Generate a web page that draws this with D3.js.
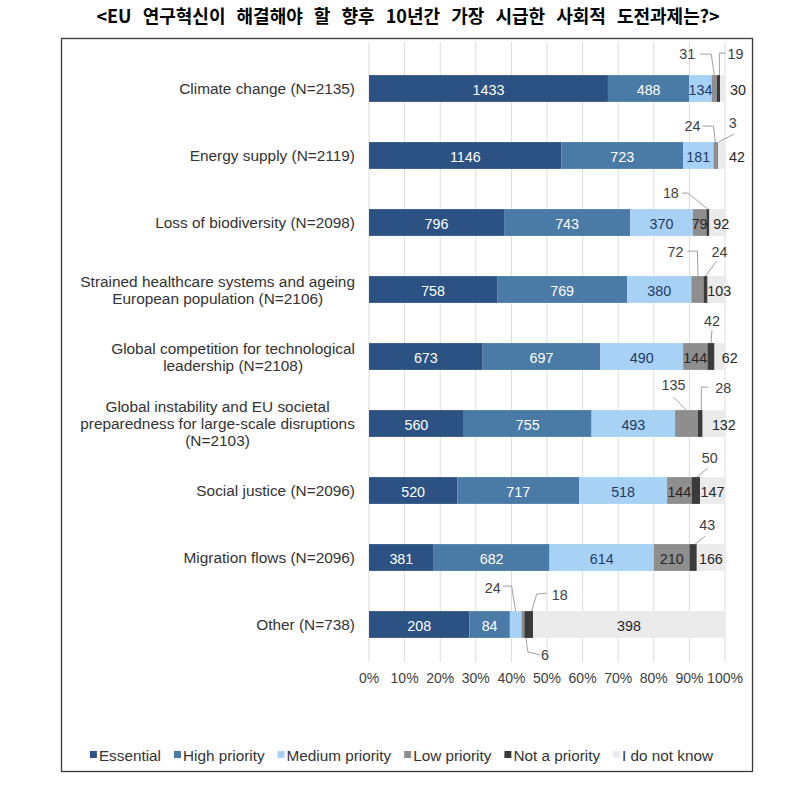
<!DOCTYPE html>
<html><head><meta charset="utf-8">
<script src="https://cdn.jsdelivr.net/npm/d3@7"></script>
<style>body{margin:0;background:#fff}</style>
</head><body>
<svg id="chart" width="812" height="792"></svg>
<script>
// ---------- data ----------
const title = "<EU 연구혁신이 해결해야 할 향후 10년간 가장 시급한 사회적 도전과제는?>";
const categories = [
  "Climate change (N=2135)",
  "Energy supply (N=2119)",
  "Loss of biodiversity (N=2098)",
  "Strained healthcare systems and ageing\nEuropean population (N=2106)",
  "Global competition for technological\nleadership (N=2108)",
  "Global instability and EU societal\npreparedness for large-scale disruptions\n(N=2103)",
  "Social justice (N=2096)",
  "Migration flows (N=2096)",
  "Other (N=738)"
];
const seriesNames = ["Essential","High priority","Medium priority","Low priority","Not a priority","I do not know"];
const essential      = [1433,1146,796,758,673,560,520,381,208];
const highPriority   = [488,723,743,769,697,755,717,682,84];
const mediumPriority = [134,181,370,380,490,493,518,614,24];
const lowPriority    = [31,24,79,72,144,135,144,210,6];
const notAPriority   = [19,3,18,24,42,28,50,43,18];
const doNotKnow      = [30,42,92,103,62,132,147,166,398];
const tickValues = [0,0.1,0.2,0.3,0.4,0.5,0.6,0.7,0.8,0.9,1];
const tickLabels = ["0%","10%","20%","30%","40%","50%","60%","70%","80%","90%","100%"];

// ---------- style / layout ----------
const colors = ["#2b5283","#4a7aa6","#a8d2f5","#8e8e8e","#3b3b3b","#ebebeb"];
const labelColors = ["#ffffff","#ffffff","#1f3a66","#262626","#262626","#262626"];
const FONT = "'Liberation Sans', Arial, sans-serif";
// callout label placement relative to segment anchor (top centre, or bottom centre)
const callouts = [
  {row:0, s:3, lx:-27, ly:-21, path:[[-14,-21],[-3,-21],[0,0]]},
  {row:0, s:4, lx:17, ly:-21, path:[[7,-22],[1,-22],[1,0]]},
  {row:1, s:3, lx:-23, ly:-16, path:[[-13,-16],[-2,-16],[0,0]]},
  {row:1, s:4, lx:15, ly:-19, path:[[16,-8],[1,0]]},
  {row:2, s:4, lx:-37, ly:-16, path:[[-26,-16],[-20,-16],[0,0]]},
  {row:3, s:3, lx:-22, ly:-24, path:[[-10,-25],[0,-25],[0.5,0]]},
  {row:3, s:4, lx:14, ly:-24, path:[[11,-15],[0,0]]},
  {row:4, s:4, lx:1, ly:-22, path:[[1,-13],[0,0]]},
  {row:5, s:3, lx:-13, ly:-25, path:[[-13,-13],[0,0]]},
  {row:5, s:4, lx:23, ly:-22, path:[[8,-23],[1,-23],[1,0]]},
  {row:6, s:4, lx:14, ly:-19, path:[[12,-9],[1,0]]},
  {row:7, s:4, lx:14, ly:-19, path:[[12,-8],[2,0]]},
  {row:8, s:2, lx:-23, ly:-23, path:[[-13,-25],[-4,-25],[0,0]]},
  {row:8, s:3, bottom:true, lx:22, ly:17, path:[[17,17],[5,14],[3,0]]},
  {row:8, s:4, lx:31, ly:-16, path:[[18,-18],[8,-17],[3,0]]}
];
const dkShift = [15.5,15.5,4,3,10,10,0,0,0];

const svg = d3.select("#chart");
svg.append("rect").attr("width",812).attr("height",792).attr("fill","#fff");

// title
svg.append("text").attr("x",408).attr("y",23).attr("text-anchor","middle")
  .attr("font-family","'Noto Sans CJK KR', sans-serif").attr("font-weight","bold")
  .attr("font-size",18).attr("word-spacing",7).attr("fill","#000").text(title);

// frame
svg.append("rect").attr("x",61.5).attr("y",38.5).attr("width",691).attr("height",733)
  .attr("fill","none").attr("stroke","#3a3a3a").attr("stroke-width",1.3);

const x = d3.scaleLinear().domain([0,1]).range([369,725]);
const y = d3.scaleBand().domain(d3.range(categories.length)).range([55,658])
  .paddingInner(0.6).paddingOuter(0.3);

// grid
svg.append("g").selectAll("line").data(tickValues).join("line")
  .attr("x1",d=>x(d)).attr("x2",d=>x(d)).attr("y1",42).attr("y2",662)
  .attr("stroke","#dcdcdc").attr("stroke-width",1);

// stack
const table = categories.map((c,i)=>{
  const vals = [essential[i],highPriority[i],mediumPriority[i],lowPriority[i],notAPriority[i],doNotKnow[i]];
  const total = d3.sum(vals);
  const o = {row:i,total};
  seriesNames.forEach((s,k)=>o[s]=vals[k]/total);
  o.raw = vals;
  return o;
});
const stack = d3.stack().keys(seriesNames)(table);

const gBars = svg.append("g");
stack.forEach((layer,k)=>{
  gBars.selectAll(null).data(layer).join("rect")
    .attr("x",d=>x(d[0])).attr("width",d=>x(d[1])-x(d[0]))
    .attr("y",(d,i)=>y(i)).attr("height",y.bandwidth())
    .attr("fill",colors[k]);
});

// labels
const gLab = svg.append("g").attr("font-family",FONT).attr("font-size",14.3);
stack.forEach((layer,k)=>{
  layer.forEach((d,i)=>{
    const val = d.data.raw[k];
    const cx = (x(d[0])+x(d[1]))/2;
    const co = callouts.find(c=>c.row===i && c.s===k);
    if(co){
      const ay = co.bottom ? y(i)+y.bandwidth() : y(i);
      gLab.append("path")
        .attr("d", d3.line()(co.path.map(p=>[cx+p[0], ay+p[1]])))
        .attr("fill","none").attr("stroke","#a0a0a0").attr("stroke-width",1);
      gLab.append("text").attr("x",cx+co.lx).attr("y",ay+co.ly)
        .attr("text-anchor","middle").attr("dominant-baseline","central")
        .attr("fill","#404040").text(val);
    } else {
      const shift = k===5 ? dkShift[i] : 0;
      gLab.append("text").attr("x",cx+shift).attr("y",y(i)+y.bandwidth()/2+1)
        .attr("text-anchor","middle").attr("dominant-baseline","central")
        .attr("fill",labelColors[k]).text(val);
    }
  });
});

// category labels
const gCat = svg.append("g").attr("font-family",FONT).attr("font-size",15.4).attr("fill","#333");
categories.forEach((c,i)=>{
  const lines = c.split("\n");
  const t = gCat.append("text").attr("text-anchor","middle");
  const lh = 17;
  const cy = y(i)+y.bandwidth()/2;
  lines.forEach((l,j)=>{
    t.append("tspan").attr("x",0).attr("y",cy+(j-(lines.length-1)/2)*lh).attr("dominant-baseline","central").text(l);
  });
  const w = t.node().getBBox().width;
  t.selectAll("tspan").attr("x",355-w/2);
});

// x tick labels
svg.append("g").attr("font-family",FONT).attr("font-size",14).attr("fill","#404040")
  .selectAll("text").data(tickValues).join("text")
  .attr("x",d=>x(d)).attr("y",678).attr("text-anchor","middle").attr("dominant-baseline","central")
  .text((d,i)=>tickLabels[i]);

// legend
const gLeg = svg.append("g").attr("font-family",FONT).attr("font-size",15.3).attr("fill","#333");
let cur = 0;
const gap = 13;
seriesNames.forEach((s,k)=>{
  const g = gLeg.append("g");
  g.append("rect").attr("x",0).attr("y",-4).attr("width",7).attr("height",7).attr("fill",colors[k]);
  const t = g.append("text").attr("x",9).attr("y",0).attr("dominant-baseline","central").text(s);
  const w = 9 + t.node().getComputedTextLength();
  g.attr("transform",`translate(${cur},755)`);
  cur += w + gap;
});
const total = cur - gap;
gLeg.attr("transform",`translate(${401.5-total/2},0)`);
</script>
</body></html>
